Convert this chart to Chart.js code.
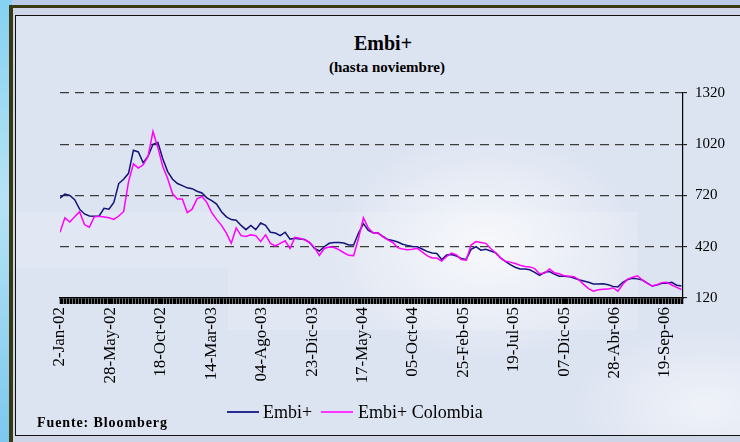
<!DOCTYPE html>
<html><head><meta charset="utf-8">
<script src="https://cdn.jsdelivr.net/npm/chart.js@4"></script>
<style>
html,body{margin:0;padding:0;width:740px;height:442px;overflow:hidden}
body{background:#b9cbe6;position:relative;font-family:'Liberation Serif','Times New Roman',serif}
#swirl{position:absolute;left:0;top:0;width:12px;height:442px;background:linear-gradient(180deg,#86d2f2,#b6e2f6 45%,#7cc8ee)}
#frame{position:absolute;left:9px;top:5px;width:740px;height:445px;border-top:3px solid #3a3a12;border-left:4px solid #3a3a12;background:#cdd5e6}
#panel{position:absolute;left:15px;top:15px;width:735px;height:419px;border:1.5px solid #111;
 background:
  radial-gradient(ellipse 230px 170px at 470px 230px, rgba(255,255,255,0.75), rgba(255,255,255,0) 70%),
  radial-gradient(ellipse 200px 120px at 690px 390px, rgba(255,255,255,0.55), rgba(255,255,255,0) 70%),
  #dce3f1;}
.band{position:absolute;background:rgba(255,255,255,0.15)}
#chartbox{position:absolute;left:17px;top:17px;width:720px;height:418px}
.lg{position:absolute;height:2px;width:32px}
.lt{position:absolute;font-size:18px;line-height:22px;color:#000;white-space:nowrap}
.tt{position:absolute;left:283px;width:200px;text-align:center;font-weight:bold;color:#000;white-space:nowrap}
#src{position:absolute;left:37px;top:415px;font-size:14px;line-height:16px;font-weight:bold;letter-spacing:0.9px;color:#000;white-space:nowrap}
</style></head>
<body>
<div id="swirl"></div>
<div id="frame"></div>
<div id="panel">
 <div class="band" style="left:0;top:196px;width:622px;height:56px"></div>
 <div class="band" style="left:212px;top:252px;width:410px;height:62px"></div>
</div>
<div class="tt" style="top:31px;font-size:20px;line-height:24px">Embi+</div>
<div class="tt" style="top:58px;font-size:15px;line-height:18px;left:287px">(hasta noviembre)</div>
<div id="chartbox"><canvas id="c" width="720" height="418"></canvas></div>
<div class="lg" style="left:227px;top:411px;background:#2a2a90"></div>
<div class="lt" style="left:263px;top:401px">Embi+</div>
<div class="lg" style="left:321px;top:411px;background:#ff33ff"></div>
<div class="lt" style="left:358px;top:401px">Embi+ Colombia</div>
<div id="src">Fuente: Bloomberg</div>
<script>
// business-day index of each sample (one sample every 10 business days)
const sampleStep = 10;
const lastDay = 1273;
const tickDays = [0,103,206,309,412,515,618,721,824,927,1030,1133,1236];
const tickLabels = ['2-Jan-02','28-May-02','18-Oct-02','14-Mar-03','04-Ago-03','23-Dic-03','17-May-04','05-Oct-04','25-Feb-05','19-Jul-05','07-Dic-05','28-Abr-06','19-Sep-06'];
const yTicks = [120,420,720,1020,1320];

const embi = [
 705,728,720,695,640,612,600,598,600,645,
 640,680,790,815,850,985,975,912,950,1020,
 1030,935,860,815,790,778,765,760,745,735,
 706,690,670,625,595,579,575,545,520,545,
 520,559,545,505,500,485,505,465,470,465,
 462,445,410,395,420,440,445,445,442,430,
 430,500,555,515,502,500,480,462,457,448,
 435,428,422,420,407,393,383,380,345,372,
 374,366,352,346,405,420,400,405,395,385,
 355,335,315,300,290,290,285,270,252,270,
 275,260,248,247,245,237,227,220,212,202,
 202,203,198,188,185,212,228,236,232,225,
 207,190,196,206,206,212,195,190];

const embiColombia = [
 505,590,565,595,625,550,535,595,598,594,
 590,580,600,625,800,905,880,900,950,1095,
 1000,890,820,730,700,700,620,640,700,714,
 680,620,580,545,500,440,530,485,480,490,
 485,450,490,440,425,440,455,410,475,470,
 460,445,415,370,410,418,415,403,385,370,
 368,470,590,530,500,500,478,460,445,415,
 407,403,405,411,390,368,354,354,336,363,
 383,372,345,341,430,450,445,440,410,385,
 355,335,330,322,312,305,302,292,262,265,
 290,268,262,250,248,245,227,200,175,160,
 168,171,172,180,160,200,230,242,250,225,
 205,190,198,210,212,196,182,170];

const serif = "'Liberation Serif','Times New Roman',serif";
const toPoints = arr => arr.map((v,i)=>({x:i*sampleStep, y:v}));
const minorTicks = [];
for (let d = 0; d <= lastDay; d += 3) minorTicks.push(d);
const allTicks = Array.from(new Set(minorTicks.concat(tickDays))).sort((a,b)=>a-b);

new Chart(document.getElementById('c'), {
  type: 'line',
  data: { datasets: [
    { label:'Embi+', data: toPoints(embi), borderColor:'#141478', borderWidth:1.5, pointRadius:0, tension:0, order:2 },
    { label:'Embi+ Colombia', data: toPoints(embiColombia), borderColor:'#ff00ff', borderWidth:1.5, pointRadius:0, tension:0, order:1 }
  ]},
  options: {
    responsive:false, animation:false, events:[],
    layout:{ padding:{ left:43, right:0, top:76, bottom:0 } },
    plugins:{ legend:{ display:false }, tooltip:{ enabled:false } },
    scales:{
      x:{
        type:'linear', min:0, max:lastDay,
        afterBuildTicks: s => { s.ticks = allTicks.map(v => ({ value:v })); },
        afterFit: s => { s.height = 137; s.paddingLeft = 0; s.paddingRight = 0; },
        ticks:{ autoSkip:false, minRotation:90, maxRotation:90, padding:3, color:'#000',
          font:{ family:serif, size:17 },
          callback: v => { const k = tickDays.indexOf(v); return k >= 0 ? tickLabels[k] : ''; } },
        grid:{ display:true, drawOnChartArea:false, drawTicks:true, tickLength:6, tickColor:'#000', tickWidth:1.6 },
        border:{ display:true, color:'#000', width:1.5 }
      },
      y:{
        position:'right', min:120, max:1320,
        afterBuildTicks: s => { s.ticks = yTicks.map(v => ({ value:v })); },
        afterFit: s => { s.width = 54; s.paddingTop = 0; s.paddingBottom = 0; },
        ticks:{ padding:8, color:'#000', font:{ family:serif, size:15 }, callback: v => String(v) },
        grid:{ color: c => (c.tick && c.tick.value === 120) ? 'rgba(0,0,0,0)' : '#3c3c3c', lineWidth:1.3,
          drawTicks:true, tickLength:4, tickColor:'#000', tickWidth:1, tickBorderDash:[] },
        border:{ display:true, color:'#000', width:1.2, dash:[9,6] }
      }
    }
  }
});
</script>
</body></html>
